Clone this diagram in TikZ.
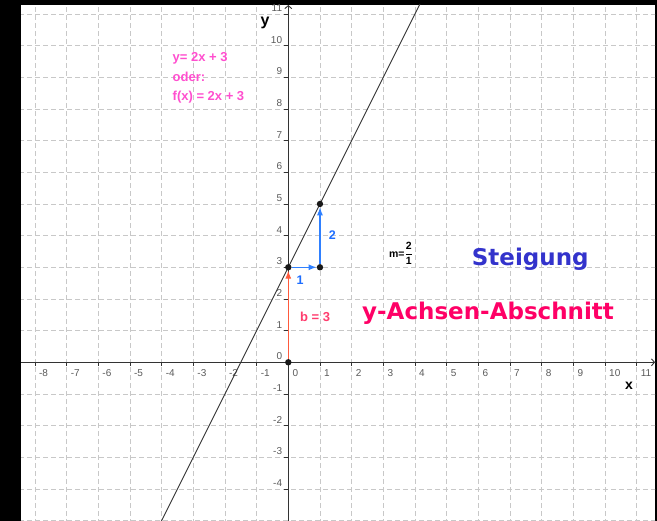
\documentclass[tikz,border=0pt]{standalone}
\usepackage{fontspec}
\setmainfont{Liberation Sans}
\newfontfamily\dejavu{DejaVu Sans}
\usetikzlibrary{arrows.meta}
\definecolor{gridgray}{HTML}{C8C8C8}
\definecolor{axisgray}{HTML}{333333}
\definecolor{ticklabel}{HTML}{5A5A5A}
\definecolor{pinktext}{HTML}{FF4FCF}
\definecolor{redarrow}{HTML}{FF5A3C}
\definecolor{redtext}{HTML}{FF3D6E}
\definecolor{bluevec}{HTML}{2F80FF}
\definecolor{bluetext}{HTML}{1E6EFF}
\definecolor{steig}{HTML}{3333CC}
\definecolor{yach}{HTML}{FF0066}
\begin{document}
\begin{tikzpicture}[x=1pt,y=-1pt,
  gridline/.style={gridgray, dash pattern=on 5pt off 3pt, line width=0.8pt},
  axisline/.style={axisgray, line width=0.9pt, -{Straight Barb[length=3pt,width=7pt]}},
  tickline/.style={axisgray, line width=0.8pt},
  xlab/.style={anchor=base west, inner sep=0pt, text=ticklabel, font=\fontsize{10}{10}\selectfont},
  ylab/.style={anchor=base east, inner sep=0pt, text=ticklabel, font=\fontsize{10}{10}\selectfont},
  axname/.style={inner sep=0pt, font=\bfseries\fontsize{14}{14}\selectfont},
  dot/.style={circle, fill=black!90, inner sep=0pt, minimum size=6.4pt},
  vecblue/.style={bluevec, line width=1.1pt, -{Latex[length=8pt,width=6pt]}},
  vecred/.style={redarrow, line width=1.1pt, -{Latex[length=8pt,width=6pt]}},
  pinklab/.style={anchor=base west, inner sep=0pt, text=pinktext, font=\bfseries\fontsize{13}{13}\selectfont},
  veclab/.style={inner sep=0pt, text=bluetext, font=\bfseries\fontsize{12.5}{12.5}\selectfont},
  biglab/.style={anchor=base west, inner sep=0pt, font=\dejavu\bfseries\fontsize{23}{23}\selectfont}
]
\useasboundingbox (0,0) rectangle (657,521);
\fill[black] (0,0) rectangle (657,521);
\fill[white] (21,5) rectangle (655,521);
\begin{scope}
\clip (21,5) rectangle (655,521);
\begin{scope}[shift={(288.3,362.3)}, x=31.67pt, y=31.67pt]
  % grid
  \foreach \i in {-8,...,11} \draw[gridline] (\i,-5.1) -- (\i,11.4);
  \foreach \j in {-5,...,11} \draw[gridline] (-8.5,\j) -- (11.7,\j);
  % axes
  \draw[axisline] (-8.45,0) -- (11.58,0);
  \draw[axisline] (0,-5.1) -- (0,11.28);
  % ticks and labels
  \foreach \i in {-8,...,11} {
    \draw[tickline] (\i,0) -- ++(0pt,-4pt);
    \node[xlab] at ([xshift=4pt,yshift=-14.7pt]\i,0) {\i};
  }
  \foreach \j in {-4,...,11} {
    \draw[tickline] (0,\j) -- ++(-4pt,0pt);
    \node[ylab] at ([xshift=-6pt,yshift=2.5pt]0,\j) {\j};
  }
  % line y = 2x + 3
  \draw[black!80, line width=0.9pt] (-4.1,-5.2) -- (4.2,11.4);
  % points
  \node[dot] (O) at (0,0) {};
  \node[dot] (B) at (0,3) {};
  \node[dot] (C) at (1,3) {};
  \node[dot] (D) at (1,5) {};
  \draw[vecred] (O) -- (B);
  \draw[vecblue] (B) -- (C);
  \draw[vecblue] (C) -- (D);
\end{scope}
\end{scope}
% axis names
\node[axname] (xname) at (629,386) {x};
\node[axname, font=\bfseries\fontsize{16}{16}\selectfont] (yname) at (265,22.5) {y};
% labels
\node[veclab] (l1) at (300,280) {1};
\node[veclab] (l2) at (332.3,235) {2};
\node[anchor=base west, inner sep=0pt, text=redtext, font=\bfseries\fontsize{13}{13}\selectfont] (bl) at (300,321.7) {b = 3};
\node[inner sep=0pt, font=\bfseries\fontsize{10.5}{10.5}\selectfont] (m) at (401,253.5) {m=$\displaystyle\frac{\mbox{2}}{\mbox{1}}$};
\node[pinklab] (p1) at (172.5,61.7) {y= 2x + 3};
\node[pinklab] (p2) at (172.5,81.7) {oder:};
\node[pinklab] (p3) at (172.5,100.5) {f(x) = 2x + 3};
\node[biglab, text=steig] (st) at (471.7,266) {Steigung};
\node[biglab, text=yach] (ya) at (362,320) {y-Achsen-Abschnitt};
\end{tikzpicture}
\end{document}
